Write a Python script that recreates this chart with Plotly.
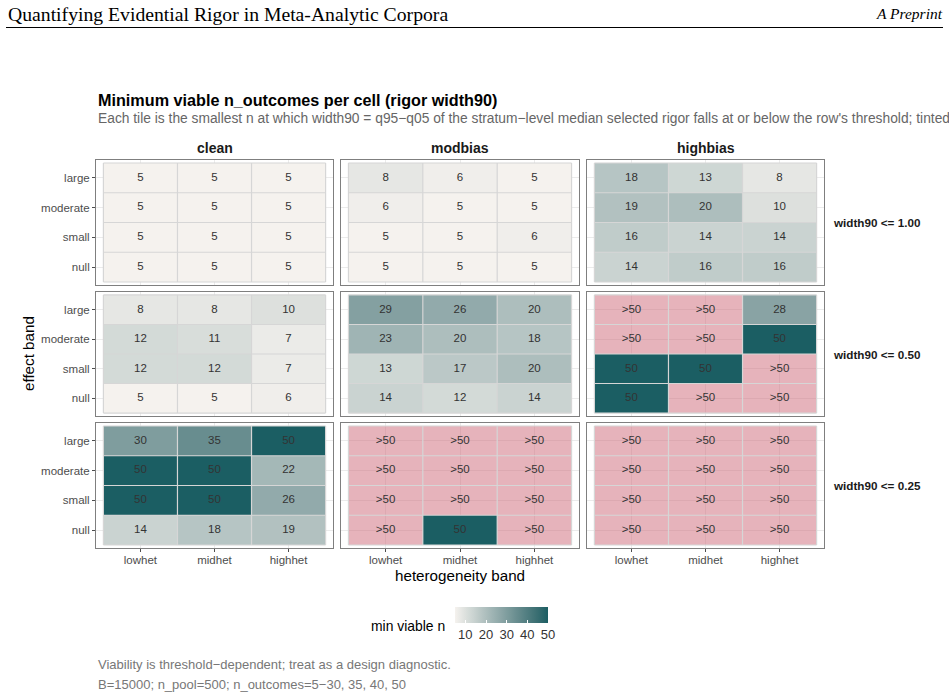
import plotly.graph_objects as go

# ---------------- data ----------------
bias_levels = ["clean", "modbias", "highbias"]
het_levels = ["lowhet", "midhet", "highhet"]
effect_levels = ["null", "small", "moderate", "large"]   # bottom -> top
threshold_labels = ["width90 <= 1.00", "width90 <= 0.50", "width90 <= 0.25"]

# values listed top row (large) -> bottom row (null); None means ">50" (never viable)
w100_clean = [[5, 5, 5], [5, 5, 5], [5, 5, 5], [5, 5, 5]]
w100_modbias = [[8, 6, 5], [6, 5, 5], [5, 5, 6], [5, 5, 5]]
w100_highbias = [[18, 13, 8], [19, 20, 10], [16, 14, 14], [14, 16, 16]]

w050_clean = [[8, 8, 10], [12, 11, 7], [12, 12, 7], [5, 5, 6]]
w050_modbias = [[29, 26, 20], [23, 20, 18], [13, 17, 20], [14, 12, 14]]
w050_highbias = [[None, None, 28], [None, None, 50], [50, 50, None], [50, None, None]]

w025_clean = [[30, 35, 50], [50, 50, 22], [50, 50, 26], [14, 18, 19]]
w025_modbias = [[None, None, None], [None, None, None], [None, None, None], [None, 50, None]]
w025_highbias = [[None, None, None], [None, None, None], [None, None, None], [None, None, None]]

grid_values = [
    [w100_clean, w100_modbias, w100_highbias],
    [w050_clean, w050_modbias, w050_highbias],
    [w025_clean, w025_modbias, w025_highbias],
]
legend_ticks = [10, 20, 30, 40, 50]
n_min, n_max = 5, 50

# ---------------- style helpers ----------------
W, H = 949, 696
def px(x): return x / W
def py(y): return 1 - y / H

def hex2rgb(h):
    h = h.lstrip("#"); return [int(h[i:i+2], 16) for i in (0, 2, 4)]

def to_lab(rgb):
    def lin(c):
        c = c / 255
        return c / 12.92 if c <= 0.04045 else ((c + 0.055) / 1.055) ** 2.4
    r, g, b = [lin(c) for c in rgb]
    X = (0.4124 * r + 0.3576 * g + 0.1805 * b) / 0.95047
    Y = (0.2126 * r + 0.7152 * g + 0.0722 * b)
    Z = (0.0193 * r + 0.1192 * g + 0.9505 * b) / 1.08883
    f = lambda t: t ** (1 / 3) if t > 0.008856 else 7.787 * t + 16 / 116
    fx, fy, fz = f(X), f(Y), f(Z)
    return [116 * fy - 16, 500 * (fx - fy), 200 * (fy - fz)]

def from_lab(lab):
    L, a, b = lab
    fy = (L + 16) / 116; fx = fy + a / 500; fz = fy - b / 200
    finv = lambda t: t ** 3 if t ** 3 > 0.008856 else (t - 16 / 116) / 7.787
    X, Y, Z = finv(fx) * 0.95047, finv(fy), finv(fz) * 1.08883
    r = 3.2406 * X - 1.5372 * Y - 0.4986 * Z
    g = -0.9689 * X + 1.8758 * Y + 0.0415 * Z
    bb = 0.0557 * X - 0.2040 * Y + 1.0570 * Z
    def gam(c):
        c = max(0, min(1, c))
        return 12.92 * c if c <= 0.0031308 else 1.055 * c ** (1 / 2.4) - 0.055
    return "rgb(%d,%d,%d)" % tuple(round(gam(c) * 255) for c in (r, g, bb))

low_col, high_col = "#f5f2ee", "#1b5e63"
la, lb = to_lab(hex2rgb(low_col)), to_lab(hex2rgb(high_col))
colorscale = [[i / 20, from_lab([la[k] + (lb[k] - la[k]) * i / 20 for k in range(3)])] for i in range(21)]

cols_px = [(96, 333), (341, 579), (587, 824)]
rows_px = [(160, 285), (292, 416), (423, 548)]

FONT = "Liberation Sans, Arial, sans-serif"
fig = go.Figure()
layout_axes = {}
xs = list(range(len(het_levels)))
ys = list(range(len(effect_levels)))

for r in range(3):
    for c in range(3):
        k = r * 3 + c + 1
        xa, ya = ("x" if k == 1 else "x%d" % k), ("y" if k == 1 else "y%d" % k)
        vals_top = grid_values[r][c]
        vals = vals_top[::-1]  # bottom (null) -> top (large)
        z_num = [[v for v in row] for row in vals]
        z_over = [[1 if v is None else None for v in row] for row in vals]
        fig.add_trace(go.Heatmap(x=xs, y=ys, z=z_num, zmin=n_min, zmax=n_max,
                                 colorscale=colorscale, showscale=(k == 1), xaxis=xa, yaxis=ya,
                                 hoverinfo="skip",
                                 colorbar=dict(orientation="h", x=px((455 + 548) / 2), xanchor="center",
                                               y=py(607), yanchor="top", len=113, lenmode="pixels",
                                               thickness=16, outlinewidth=0, tickvals=legend_ticks,
                                               ypad=0, xpad=10,
                                               ticks="inside", tickcolor="white", ticklen=3,
                                               tickfont=dict(family=FONT, size=13, color="#333333"))))
        fig.add_trace(go.Heatmap(x=xs, y=ys, z=z_over, zmin=0, zmax=1,
                                 colorscale=[[0, "#cd6979"], [1, "#cd6979"]], opacity=0.5,
                                 showscale=False, xaxis=xa, yaxis=ya, hoverinfo="skip"))
        # tile borders
        bx, by = [], []
        for i in range(len(het_levels) + 1):
            bx += [i - 0.5, i - 0.5, None]; by += [-0.5, len(effect_levels) - 0.5, None]
        for j in range(len(effect_levels) + 1):
            bx += [-0.5, len(het_levels) - 0.5, None]; by += [j - 0.5, j - 0.5, None]
        fig.add_trace(go.Scatter(x=bx, y=by, mode="lines", line=dict(color="#d6d6d6", width=1.2),
                                 xaxis=xa, yaxis=ya, hoverinfo="skip", showlegend=False))
        tx, ty, tt = [], [], []
        for j, row in enumerate(vals):
            for i, v in enumerate(row):
                tx.append(i); ty.append(j); tt.append(">50" if v is None else str(v))
        fig.add_trace(go.Scatter(x=tx, y=ty, text=tt, mode="text",
                                 textfont=dict(family=FONT, size=11.5, color="#333333"),
                                 xaxis=xa, yaxis=ya, hoverinfo="skip", showlegend=False))
        common = dict(showgrid=True, gridcolor="#ebebeb", gridwidth=1, zeroline=False,
                      showline=True, mirror=True, linecolor="#7f7f7f", linewidth=1,
                      ticklen=3, tickcolor="#4d4d4d", fixedrange=True,
                      tickfont=dict(family=FONT, size=11.5, color="#4d4d4d"))
        layout_axes["xaxis" if k == 1 else "xaxis%d" % k] = dict(
            common, domain=[px(cols_px[c][0]), px(cols_px[c][1])], anchor=ya,
            range=[-0.6, len(het_levels) - 0.4], tickvals=xs, ticktext=het_levels,
            showticklabels=(r == 2), ticks="outside" if r == 2 else "", ticklabelstandoff=-2)
        layout_axes["yaxis" if k == 1 else "yaxis%d" % k] = dict(
            common, domain=[py(rows_px[r][1]), py(rows_px[r][0])], anchor=xa,
            range=[-0.6, len(effect_levels) - 0.4], tickvals=ys, ticktext=effect_levels,
            showticklabels=(c == 0), ticks="outside" if c == 0 else "")

ann = []
def A(text, x, y, size, color="#000000", xanchor="left", yanchor="middle", bold=False, italic=False,
      family=FONT, angle=0):
    t = text
    if bold: t = "<b>%s</b>" % t
    if italic: t = "<i>%s</i>" % t
    ann.append(dict(text=t, x=px(x), y=py(y), xref="paper", yref="paper", showarrow=False,
                    xanchor=xanchor, yanchor=yanchor, textangle=angle,
                    font=dict(family=family, size=size, color=color)))

SERIF = "Liberation Serif, Times New Roman, serif"
A("Quantifying Evidential Rigor in Meta-Analytic Corpora", 6, 14, 19.7, family=SERIF)
A("A Preprint", 945, 14, 15.5, family=SERIF, xanchor="right", italic=True)
A("Minimum viable n_outcomes per cell (rigor width90)", 96, 100, 16.2, bold=True)
A("Each tile is the smallest n at which width90 = q95−q05 of the stratum−level median selected rigor "
  "falls at or below the row's threshold; tinted tiles never reach it (>50).", 96, 119, 13.8, color="#666666")
for c, name in enumerate(bias_levels):
    A(name, sum(cols_px[c]) / 2, 148, 14, xanchor="center", bold=True, color="#1a1a1a")
for r, name in enumerate(threshold_labels):
    A(name, 831, sum(rows_px[r]) / 2, 11.7, bold=True, color="#1a1a1a")
A("effect band", 28, (rows_px[0][0] + rows_px[2][1]) / 2, 15.2, xanchor="center", angle=-90)
A("heterogeneity band", (cols_px[0][0] + cols_px[2][1]) / 2, 575, 15.2, xanchor="center")
A("min viable n", 447, 626, 13.9, xanchor="right")
A("Viability is threshold−dependent; treat as a design diagnostic.", 96, 664, 13, color="#777777")
A("B=15000; n_pool=500; n_outcomes=5−30, 35, 40, 50", 96, 684, 13, color="#777777")

fig.update_layout(
    width=W, height=H, margin=dict(l=0, r=0, t=0, b=0),
    paper_bgcolor="white", plot_bgcolor="white", showlegend=False,
    annotations=ann,
    shapes=[dict(type="line", xref="paper", yref="paper", x0=px(6), x1=px(943), y0=py(27.5), y1=py(27.5),
                 line=dict(color="black", width=1.2))],
    **layout_axes,
)
fig.write_html("out.html")
